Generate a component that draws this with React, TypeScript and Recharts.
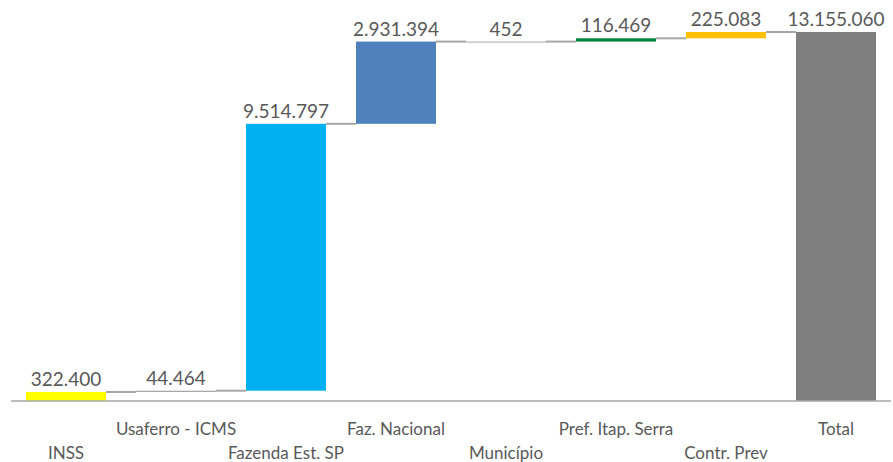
import { BarChart, Bar, XAxis, YAxis, Cell, LabelList } from 'recharts'

const categories = ['INSS', 'Usaferro - ICMS', 'Fazenda Est. SP', 'Faz. Nacional', 'Município', 'Pref. Itap. Serra', 'Contr. Prev', 'Total']
const values = [322400, 44464, 9514797, 2931394, 452, 116469, 225083, 13155060]
const colors = ['#FFFF00', '#A6A6A6', '#00B0F0', '#4F81BD', '#A6A6A6', '#00853E', '#FFC000', '#7F7F7F']

const fmt = (v: number) => String(v).replace(/\B(?=(\d{3})+(?!\d))/g, '.')

let running = 0
const rows = categories.map((name, i) => {
  const isTotal = i === categories.length - 1
  const base = isTotal ? 0 : running
  if (!isTotal) running += values[i]
  return { name, base, value: values[i], label: fmt(values[i]) }
})

const FONT = 'Lato, "Open Sans", sans-serif'

function StepBar(props: any) {
  const { x, y, width, height, index, fill } = props
  const last = index === rows.length - 1
  return (
    <g>
      <rect x={x} y={y} width={width} height={Math.max(height, 1)} fill={fill} />
      {!last && (
        <line x1={x + width} x2={x + width + 30} y1={y} y2={y} stroke="#A6A6A6" strokeWidth={2} />
      )}
    </g>
  )
}

function StaggerTick({ x, y, payload, index }: any) {
  const dy = index % 2 === 0 ? 50 : 26
  return (
    <text x={x} y={y + dy} textAnchor="middle" fill="#595959" fontSize={17} fontFamily={FONT}>
      {payload.value}
    </text>
  )
}

export default function App() {
  return (
    <div style={{ position: 'absolute', left: 0, top: 0, background: '#fff' }}>
      <BarChart
        width={893}
        height={462}
        data={rows}
        margin={{ top: 32, right: 2, left: 11, bottom: 0 }}
        barCategoryGap={15}
      >
        <XAxis
          dataKey="name"
          height={61}
          interval={0}
          tickLine={false}
          axisLine={{ stroke: '#A6A6A6', strokeWidth: 1.5 }}
          tick={<StaggerTick />}
        />
        <YAxis hide domain={[0, 13155060]} />
        <Bar dataKey="base" stackId="w" fill="transparent" isAnimationActive={false} />
        <Bar dataKey="value" stackId="w" shape={<StepBar />} isAnimationActive={false}>
          {rows.map((r, i) => (
            <Cell key={r.name} fill={colors[i]} />
          ))}
          <LabelList dataKey="label" position="top" offset={6} fill="#595959" fontSize={19} fontFamily={FONT} />
        </Bar>
      </BarChart>
    </div>
  )
}
